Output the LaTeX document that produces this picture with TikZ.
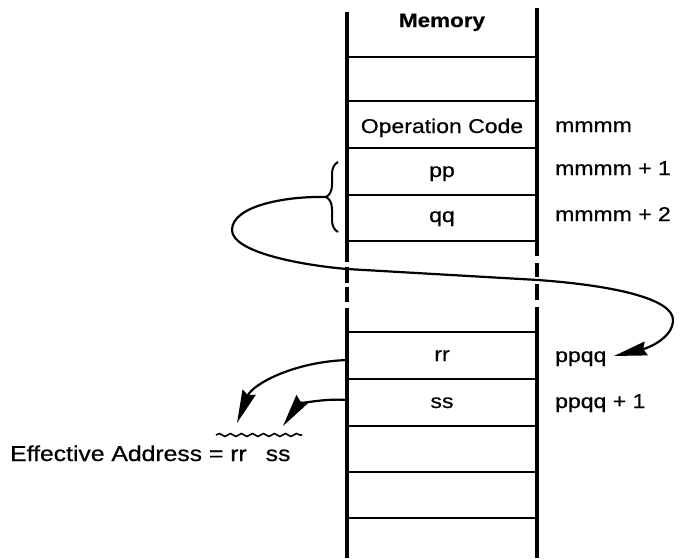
\documentclass[tikz,border=0pt]{standalone}
\usepackage{fontspec}
\setmainfont{Liberation Sans}[FakeStretch=1.15,FakeBold=0.6]
\usetikzlibrary{arrows.meta,decorations.pathreplacing,decorations.pathmorphing}
\begin{document}
\begin{tikzpicture}[x=1pt,y=-1pt,
  vline/.style={line width=4pt},
  hline/.style={line width=2.5pt},
  cell/.style={anchor=base, inner sep=0pt, font=\fontsize{20}{24}\selectfont},
  addr/.style={anchor=base west, inner sep=0pt, font=\fontsize{20}{24}\selectfont},
  link/.style={line width=2.2pt, -{Stealth[length=33pt,width=14pt,inset=3pt]}},
  bracestyle/.style={line width=2pt, decorate, decoration={brace,amplitude=12pt}},
  wave/.style={line width=1.6pt, decorate, decoration={snake,amplitude=1.5pt,segment length=11pt}}]
\useasboundingbox (0,0) rectangle (681,558);
% columns
\draw[vline] (347,12) -- (347,262);
\draw[vline] (347,267) -- (347,283);
\draw[vline] (347,287) -- (347,302);
\draw[vline] (347,308) -- (347,558);
\draw[vline] (537,8) -- (537,256);
\draw[vline] (537,263) -- (537,277);
\draw[vline] (537,284) -- (537,300);
\draw[vline] (537,307) -- (537,558);
\foreach \y in {57,101,148,195,241,332,379,426,472,518}
  \draw[hline] (347,\y) -- (537,\y);
% cell texts
\node[cell, font=\fontsize{19.5}{24}\selectfont\bfseries] (mem) at (442,27) {Memory};
\node[cell] (op) at (442,133) {Operation Code};
\node[cell] (pp) at (442,177) {pp};
\node[cell] (qq) at (442,222) {qq};
\node[cell] (rr) at (442,361) {rr};
\node[cell] (ss) at (442,408) {ss};
% addresses
\node[addr] (a0) at (555,132) {mmmm};
\node[addr] (a1) at (555,175) {mmmm + 1};
\node[addr] (a2) at (555,221) {mmmm + 2};
\node[addr] (a3) at (555,362) {ppqq};
\node[addr] (a4) at (555,408) {ppqq + 1};
% brace and pointer
\draw[bracestyle] (338,232) -- (338,162);
\coordinate (btip) at (326,197);
\coordinate (tipA) at (614,356);
\draw[link] (btip) .. controls (285,196) and (232,206) .. (232,230)
  .. controls (232,252) and (300,265) .. (347,269) -- (538,280)
  .. controls (620,286) and (673,300) .. (673,320)
  .. controls (673,338) and (648,348) .. (tipA);
% effective address
\coordinate (rrout) at (347,360);
\coordinate (ssout) at (347,400);
\coordinate (tipB) at (237,423);
\coordinate (tipC) at (283,426);
\draw[link] (rrout) .. controls (292,362) and (252,385) .. (tipB);
\draw[link] (ssout) .. controls (322,398) and (298,405) .. (tipC);
\draw[wave] (216,435) -- (302,435);
\node[anchor=base west, inner sep=0pt, font=\fontsize{21.5}{26}\selectfont] (ea) at (10,461) {Effective Address = rr\hspace{19pt}ss};
\end{tikzpicture}
\end{document}
